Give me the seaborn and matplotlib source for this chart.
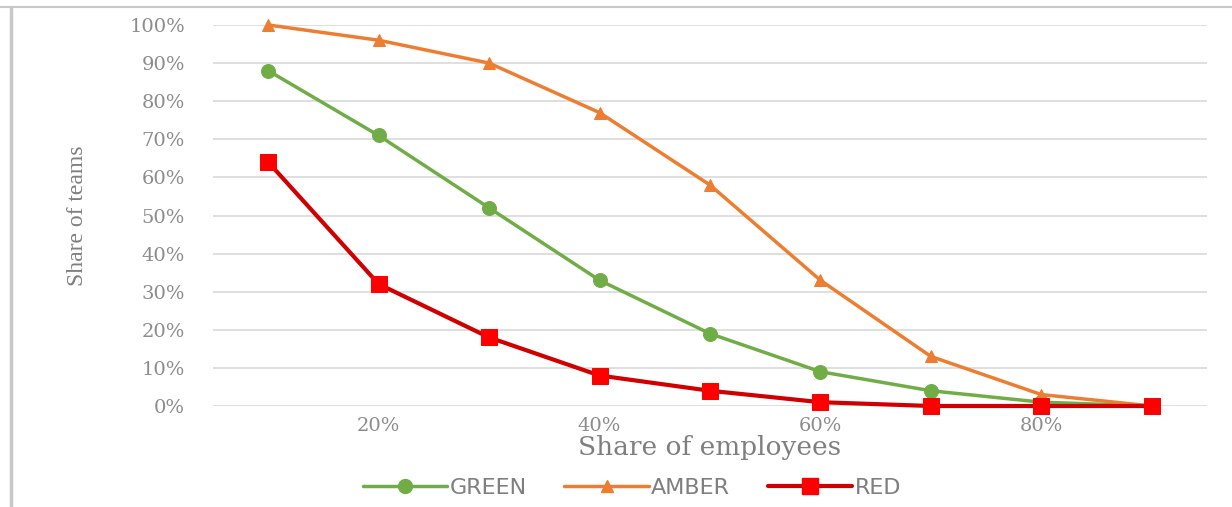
import matplotlib.pyplot as plt
import pandas as pd
import seaborn as sns
from matplotlib.lines import Line2D

# Data
share_employees = [0.1, 0.2, 0.3, 0.4, 0.5, 0.6, 0.7, 0.8, 0.9]
green = [0.88, 0.71, 0.52, 0.33, 0.19, 0.09, 0.04, 0.01, 0.0]
amber = [1.00, 0.96, 0.90, 0.77, 0.58, 0.33, 0.13, 0.03, 0.0]
red = [0.64, 0.32, 0.18, 0.08, 0.04, 0.01, 0.0, 0.0, 0.0]
xtick_vals = [0.2, 0.4, 0.6, 0.8]
xtick_labels = ["20%", "40%", "60%", "80%"]
ytick_vals = [i / 10 for i in range(11)]
ytick_labels = [f"{i * 10}%" for i in range(11)]

df = pd.DataFrame({
    "x": share_employees * 3,
    "y": green + amber + red,
    "series": ["GREEN"] * 9 + ["AMBER"] * 9 + ["RED"] * 9,
})

sns.set_style("white")

fig = plt.figure(figsize=(12.32, 5.07), dpi=100)
ax = fig.add_axes([0.1729, 0.1992, 0.8068, 0.7515])

styles = {
    "GREEN": dict(color="#70AD47", marker="o", markersize=10, linewidth=2.5, mec="#70AD47"),
    "AMBER": dict(color="#ED7D31", marker="^", markersize=9, linewidth=2.5, mec="#ED7D31"),
    "RED": dict(color="#D00000", marker="s", markersize=11, linewidth=3, mfc="#FF0000", mec="#FF0000"),
}

for name in ["GREEN", "AMBER", "RED"]:
    sub = df[df["series"] == name]
    sns.lineplot(data=sub, x="x", y="y", ax=ax, clip_on=False, zorder=3, **styles[name])

ax.set_xlim(0.05, 0.95)
ax.set_ylim(0, 1.0)
ax.set_xticks(xtick_vals)
ax.set_xticklabels(xtick_labels)
ax.set_yticks(ytick_vals)
ax.set_yticklabels(ytick_labels)
ax.grid(axis="y", color="#d9d9d9", linewidth=1.2)
ax.grid(axis="x", visible=False)
for s in ax.spines.values():
    s.set_visible(False)
ax.tick_params(axis="both", length=0, colors="#8c8c8c", labelsize=14)
ax.tick_params(axis="y", pad=20)
ax.tick_params(axis="x", pad=8)
for lbl in ax.get_xticklabels() + ax.get_yticklabels():
    lbl.set_family("DejaVu Serif")

ax.set_xlabel("Share of employees", family="DejaVu Serif", fontsize=19, color="#7f7f7f", labelpad=0)
ax.set_ylabel("Share of teams", family="Liberation Serif", fontsize=17, color="#7f7f7f", labelpad=30)

handles = [
    Line2D([], [], label=n, **styles[n]) for n in ["GREEN", "AMBER", "RED"]
]
fig.legend(handles=handles, loc="center", bbox_to_anchor=(0.513, 0.037), ncol=3, frameon=False,
           fontsize=16, handlelength=3.8, handletextpad=0.1, columnspacing=1.7, labelcolor="#7f7f7f")

# screenshot frame
fig.add_artist(Line2D([0, 1], [0.986, 0.986], color="#c8c8c8", linewidth=1.5, transform=fig.transFigure))
fig.add_artist(Line2D([0.009, 0.009], [0, 0.986], color="#c8c8c8", linewidth=2.5, transform=fig.transFigure))

fig.savefig("out.png", dpi=100)
